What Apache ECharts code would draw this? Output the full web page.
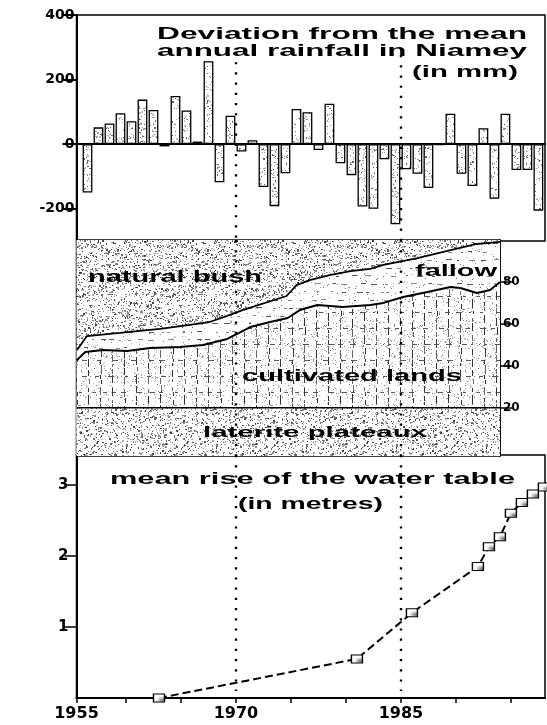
<!DOCTYPE html>
<html>
<head>
<meta charset="utf-8">
<script src="https://cdn.jsdelivr.net/npm/echarts@6/dist/echarts.min.js"></script>
<style>
html,body{margin:0;padding:0;background:#fff;}
#chart{width:547px;height:725px;}
</style>
</head>
<body>
<div id="chart"></div>
<script>
// ---------- DATA ----------
const rainYears = [1956,1957,1958,1959,1960,1961,1962,1963,1964,1965,1966,1967,1968,1969,1970,1971,1972,1973,1974,1975,1976,1977,1978,1979,1980,1981,1982,1983,1984,1985,1986,1987,1988,1989,1990,1991,1992,1993,1994,1995,1996,1997];
const rainDeviation = [-150,52,64,96,71,138,106,-7,149,104,8,257,-118,88,-23,12,-133,-192,-90,109,99,-18,125,-59,-96,-193,-200,-47,-248,-78,-92,-136,-3,94,-92,-130,49,-169,94,-80,-80,-206];
const rainTicks = [-200,0,200,400];

const bushEdgeYears  = [1955.55,1956.45,1959.45,1963.1,1965.8,1967.6,1969.2,1970.6,1974.6,1975.5,1976.7,1978.5,1980.4,1982.2,1983.4,1986.5,1989.5,1991.9,1994];
const bushEdgeValues = [47.5,54.2,55.7,57.6,59.5,60.9,63.8,66.6,73.3,78.5,80.9,83.3,85.2,86.2,88.1,91.4,95.2,98.1,99.1];
const cultEdgeYears  = [1955.55,1956.3,1957.9,1960.1,1962.2,1964.9,1967.0,1969.2,1971.3,1973.1,1974.7,1975.8,1977.4,1979.7,1982.2,1983.4,1985.2,1987.4,1989.5,1990.4,1991.9,1993.1,1994];
const cultEdgeValues = [42.8,46.6,47.5,47.1,48.5,49.0,49.9,52.8,58.5,60.9,62.8,66.6,69.0,68.1,69.0,70.0,72.8,75.2,77.6,77.1,74.7,76.2,80.0];
const lateriteLevel = 20;
const landTicks = [20,40,60,80];

const waterYears = [1963,1981,1986,1992,1993,1994,1995,1996,1997,1998];
const waterRise  = [0,0.55,1.2,1.85,2.13,2.27,2.6,2.75,2.87,2.97];
const waterTicks = [1,2,3];

const yearTicks = [1955.5,1960,1965,1970,1975,1980,1985,1990,1995];
const yearLabels = [1955.5,1970,1985];
const markYears = [1970,1985];

// ---------- TEXTURES ----------
function rng(seed){let s=seed>>>0;return ()=>{s=(Math.imul(s,1664525)+1013904223)>>>0;return s/4294967296;};}
function makeCanvas(w,h){const c=document.createElement('canvas');c.width=w;c.height=h;const g=c.getContext('2d');g.fillStyle='#fff';g.fillRect(0,0,w,h);return [c,g];}
function speckle(size,n,seed,shades){
  const [c,g]=makeCanvas(size,size);const r=rng(seed);
  for(let i=0;i<n;i++){const x=Math.floor(r()*size),y=Math.floor(r()*size);
    g.fillStyle=shades[Math.floor(r()*shades.length)];
    g.fillRect(x,y,r()<0.25?2:1,r()<0.2?2:1);}
  return c;
}
function fallowTex(){
  const size=96;const [c,g]=makeCanvas(size,size);const r=rng(77);
  for(let y=3;y<size;y+=8){let x=Math.floor(r()*10);
    while(x<size){const len=2+Math.floor(r()*5);g.fillStyle=r()<0.5?'#555':'#888';g.fillRect(x,y+Math.floor(r()*2),len,1);x+=len+3+Math.floor(r()*12);}}
  for(let i=0;i<200;i++){g.fillStyle=r()<0.5?'#777':'#aaa';g.fillRect(Math.floor(r()*size),Math.floor(r()*size),1,1);}
  return c;
}
function cultTex(){
  const size=96;const [c,g]=makeCanvas(size,size);const r=rng(123);
  for(let i=0;i<700;i++){g.fillStyle=r()<0.5?'#888':'#bbb';g.fillRect(Math.floor(r()*size),Math.floor(r()*size),1,1);}
  for(let x=4;x<size;x+=12){let y=Math.floor(r()*6);
    while(y<size){const len=3+Math.floor(r()*7);g.fillStyle=r()<0.6?'#333':'#666';g.fillRect(x+(r()<0.3?1:0),y,1,len);y+=len+1+Math.floor(r()*4);}}
  for(let y=8;y<size;y+=16){let x=Math.floor(r()*8);
    while(x<size){const len=2+Math.floor(r()*5);g.fillStyle='#555';g.fillRect(x,y,len,1);x+=len+4+Math.floor(r()*10);}}
  return c;
}
const texBush = speckle(90,1250,11,['#444','#666','#888','#aaa']);
const texLaterite = speckle(90,1150,29,['#444','#666','#888','#aaa']);
const texFallow = fallowTex();
const texCult = cultTex();
const texBar = speckle(60,380,5,['#666','#999','#bbb']);
const texMark = speckle(20,40,9,['#777','#999']);
const pat = c => ({image:c, repeat:'repeat'});

// ---------- TEXT HELPERS ----------
const mctx = document.createElement('canvas').getContext('2d');
const TF = '"Liberation Sans", Arial, sans-serif';
function wideText(str,left,cy,width,size){
  mctx.font = 'bold '+size+'px '+TF;
  const w = mctx.measureText(str).width;
  return {type:'text', x:left, y:cy, scaleX: width/w, z:100,
    style:{text:str, fill:'#000', fontSize:size, fontWeight:'bold', fontFamily:TF,
      textAlign:'left', textVerticalAlign:'middle', align:'left', verticalAlign:'middle'}};
}

// ---------- CHART ----------
const AF = 'DejaVu Sans';
const dotted = {color:'#000', type:[2.2,8], width:2.4};
function vlines(yTop, yBottom){
  return {symbol:['none','none'], silent:true, label:{show:false}, lineStyle:dotted, animation:false,
    data: markYears.map((yr,i)=>[{coord:[yr, yTop[i]]},{coord:[yr, yBottom]}])};
}
const pair = (xs,ys)=>xs.map((x,i)=>[x,ys[i]]);

const chart = echarts.init(document.getElementById('chart'), null, {renderer:'canvas'});
chart.setOption({
  animation:false,
  backgroundColor:'#fff',
  grid:[
    {left:76.5, top:15, width:468.5, height:226, show:true, borderColor:'#000', borderWidth:1.5, backgroundColor:'transparent'},
    {left:76.5, top:240, width:423.5, height:216, show:true, borderColor:'#000', borderWidth:1.5, backgroundColor:'transparent'},
    {left:76.5, top:455, width:468.5, height:243, show:true, borderColor:'#000', borderWidth:1.5, backgroundColor:'transparent'}
  ],
  xAxis:[
    {gridIndex:0, type:'value', min:1955.5, max:1998.1, axisLine:{onZero:true, lineStyle:{color:'#000', width:2}},
      axisTick:{show:false}, axisLabel:{show:false}, splitLine:{show:false}},
    {gridIndex:1, type:'value', min:1955.5, max:1994, axisLine:{show:false}, axisTick:{show:false}, axisLabel:{show:false}, splitLine:{show:false}},
    {gridIndex:2, type:'value', min:1955.5, max:1998.1,
      axisLine:{onZero:false, lineStyle:{color:'#000', width:2}},
      axisTick:{show:true, length:5, customValues:yearTicks, lineStyle:{color:'#000', width:1.5}},
      axisLabel:{show:true, customValues:yearLabels, formatter:v=>String(Math.floor(v)), margin:8,
        color:'#000', fontFamily:AF, fontWeight:'bold', fontSize:16},
      splitLine:{show:false}}
  ],
  yAxis:[
    {gridIndex:0, type:'value', min:-300, max:400,
      axisLine:{show:true, lineStyle:{color:'#000', width:2}},
      axisTick:{show:true, length:14, customValues:rainTicks, lineStyle:{color:'#000', width:2}},
      axisLabel:{show:true, customValues:rainTicks, margin:2, color:'#000', fontFamily:AF, fontWeight:'bold', fontSize:14},
      splitLine:{show:false}},
    {gridIndex:1, type:'value', min:-3, max:100, position:'right',
      axisLine:{show:true, lineStyle:{color:'#000', width:1.5}},
      axisTick:{show:true, length:13, customValues:landTicks, lineStyle:{color:'#000', width:1.5}},
      axisLabel:{show:true, customValues:landTicks, margin:3, color:'#000', fontFamily:AF, fontWeight:'bold', fontSize:12},
      splitLine:{show:false}},
    {gridIndex:2, type:'value', min:0, max:3.42,
      axisLine:{show:true, lineStyle:{color:'#000', width:2}},
      axisTick:{show:true, length:12, customValues:waterTicks, lineStyle:{color:'#000', width:1.5}},
      axisLabel:{show:true, customValues:waterTicks, margin:8, color:'#000', fontFamily:AF, fontWeight:'bold', fontSize:15},
      splitLine:{show:false}}
  ],
  series:[
    {type:'bar', xAxisIndex:0, yAxisIndex:0, barWidth:9.8,
      data: rainYears.map((y,i)=>[y+0.5, rainDeviation[i]]),
      itemStyle:{color:pat(texBar), borderColor:'#000', borderWidth:1.3},
      markLine: vlines([254,276], -300)},
    {type:'line', xAxisIndex:1, yAxisIndex:1, data:[[1955.5,100],[1994,100]], symbol:'none',
      lineStyle:{width:0}, areaStyle:{color:pat(texBush), origin:'start', opacity:1}},
    {type:'line', xAxisIndex:1, yAxisIndex:1, data:pair(bushEdgeYears,bushEdgeValues), symbol:'none',
      lineStyle:{color:'#000', width:1.8}, areaStyle:{color:pat(texFallow), origin:'start', opacity:1}},
    {type:'line', xAxisIndex:1, yAxisIndex:1, data:pair(cultEdgeYears,cultEdgeValues), symbol:'none',
      lineStyle:{color:'#000', width:2}, areaStyle:{color:pat(texCult), origin:'start', opacity:1}},
    {type:'line', xAxisIndex:1, yAxisIndex:1, data:[[1955.5,lateriteLevel],[1994,lateriteLevel]], symbol:'none',
      lineStyle:{color:'#000', width:1.6}, areaStyle:{color:pat(texLaterite), origin:'start', opacity:1},
      markLine: vlines([100,100], -3)},
    {type:'line', xAxisIndex:2, yAxisIndex:2, data:pair(waterYears,waterRise),
      symbol:'rect', symbolSize:[11,8], showAllSymbol:true,
      itemStyle:{color:pat(texMark), borderColor:'#000', borderWidth:1.2},
      lineStyle:{color:'#000', width:2, type:[8,4]},
      markLine: vlines([3.42,3.42], 0.1)}
  ],
  graphic:[
    wideText('Deviation from the mean',157,34.7,370,16),
    wideText('annual rainfall in Niamey',157,51.7,370,16),
    wideText('(in mm)',412,72.7,106,16),
    wideText('natural bush',88,277.7,174,16),
    wideText('fallow',415,271.4,82,16),
    wideText('cultivated lands',242,376.4,220,16),
    wideText('laterite plateaux',203,433,224,15),
    wideText('mean rise of the water table',110,479.5,405,17),
    wideText('(in metres)',238,504.7,145,16)
  ]
});
</script>
</body>
</html>
